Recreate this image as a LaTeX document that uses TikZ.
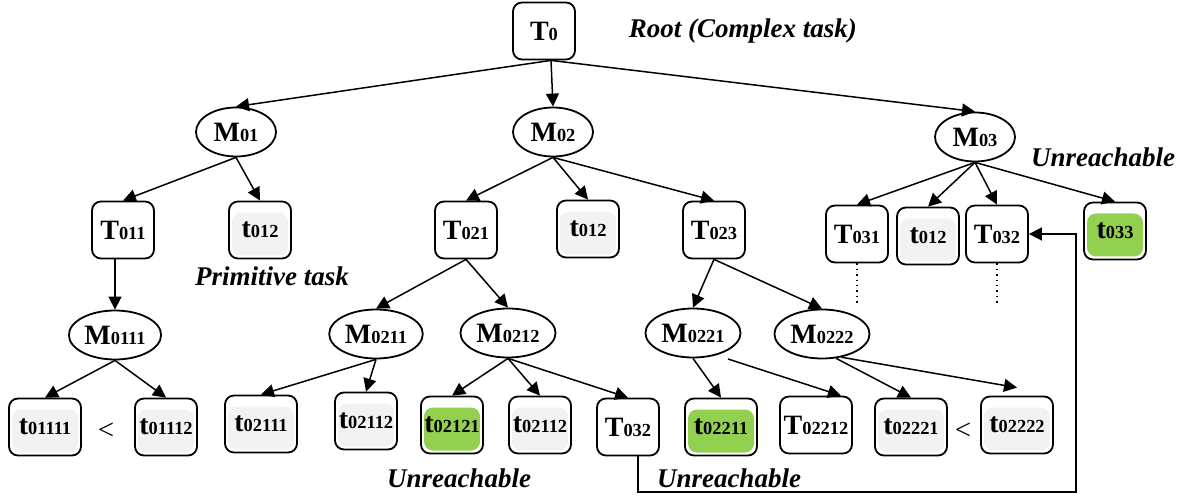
\documentclass[tikz,border=0pt]{standalone}
\usepackage{fontspec}
\setmainfont{Liberation Serif}
\usetikzlibrary{positioning, arrows.meta, shapes.geometric}

\definecolor{reachgreen}{HTML}{92D050}
\definecolor{primgray}{HTML}{F2F2F2}

% task / method label: big letter, small index
\newcommand{\tsk}[2]{{\fontsize{14}{16}\selectfont #1}{\fontsize{9.2}{11}\selectfont #2}}

\begin{document}
\begin{tikzpicture}[
    x=0.5pt, y=-0.5pt,
    % Styles
    task/.style={draw, line width=0.9pt, rounded corners=4.5pt, font=\bfseries, minimum width=31pt, minimum height=28.5pt, inner xsep=1.5pt, inner ysep=0pt},
    wide/.style={minimum width=36pt},
    inset/.style={path picture={\fill[#1] ([shift={(1.5pt,1.5pt)}]path picture bounding box.south west) rectangle ([shift={(-1.5pt,-5.5pt)}]path picture bounding box.north east);}},
    primitive/.style={task, inset=primgray},
    reached/.style={task, inset=reachgreen},
    method/.style={draw, ellipse, line width=0.9pt, font=\bfseries, minimum width=40pt, minimum height=24.5pt, inner xsep=1pt, inner ysep=0pt},
    arrow/.style={-{Triangle[length=6.5pt,width=6.5pt]}, line width=0.75pt},
    note/.style={font=\fontsize{13.5}{16}\selectfont\bfseries\itshape},
    less/.style={font=\fontsize{14.5}{16}\selectfont},
]
\useasboundingbox (0,0) rectangle (1189,497);

% Root
\node[task] (T0) at (544,31) {\tsk{T}{0}};
\node[note, right=23pt of T0] (rootlbl) {Root (Complex task)};

% Methods of the root
\node[method] (M01) at (236,132) {\tsk{M}{01}};
\node[method] (M02) at (553,132) {\tsk{M}{02}};
\node[method] (M03) at (975,137) {\tsk{M}{03}};

\draw[arrow] ([xshift=3.5pt]T0.south) -- (M01.north);
\draw[arrow] ([xshift=3.5pt]T0.south) -- (M02.north);
\draw[arrow] ([xshift=3.5pt]T0.south) -- (M03.north);

% Subtasks
\node[task] (T011) at (123,230) {\tsk{T}{011}};
\node[primitive] (t012a) at (260,230) {\tsk{t}{012}};
\node[task] (T021) at (466,230) {\tsk{T}{021}};
\node[primitive] (t012b) at (588,229) {\tsk{t}{012}};
\node[task] (T023) at (714,230) {\tsk{T}{023}};
\node[task] (T031) at (857,234) {\tsk{T}{031}};
\node[primitive] (t012c) at (928,236) {\tsk{t}{012}};
\node[task] (T032a) at (997,234) {\tsk{T}{032}};
\node[reached] (t033) at (1115,231) {\tsk{t}{033}};

\draw[arrow] (M01.south) -- (T011.north);
\draw[arrow] (M01.south) -- (t012a.north);
\draw[arrow] (M02.south) -- (T021.north);
\draw[arrow] (M02.south) -- (t012b.north);
\draw[arrow] (M02.south) -- (T023.north);
\draw[arrow] (M03.south) -- (T031.north);
\draw[arrow] (M03.south) -- (t012c.north);
\draw[arrow] (M03.south) -- (T032a.north);
\draw[arrow] (M03.south) -- (t033.north);

\draw[dotted, line width=0.7pt] (T031.south) -- ++(0,42);
\draw[dotted, line width=0.7pt] (T032a.south) -- ++(0,42);

% Methods of the subtasks
\node[method] (M0111) at (115,335) {\tsk{M}{0111}};
\node[method] (M0211) at (376,334) {\tsk{M}{0211}};
\node[method] (M0212) at (508,333) {\tsk{M}{0212}};
\node[method] (M0221) at (693,333) {\tsk{M}{0221}};
\node[method] (M0222) at (822,334) {\tsk{M}{0222}};

\draw[arrow] (T011.south -| M0111.north) -- (M0111.north);
\draw[arrow] (T021.south) -- (M0211.north);
\draw[arrow] (T021.south) -- (M0212.north);
\draw[arrow] (T023.south) -- (M0221.north);
\draw[arrow] (T023.south) -- (M0222.north);

% Leaves
\node[primitive, wide] (t01111) at (45,427) {\tsk{t}{01111}};
\node[less] (lt1) at (106,431) {<};
\node[primitive] (t01112) at (166,427) {\tsk{t}{01112}};
\node[primitive, wide] (t02111) at (261,424) {\tsk{t}{02111}};
\node[primitive] (t02112a) at (366,421) {\tsk{t}{02112}};
\node[reached] (t02121) at (452,425) {\tsk{t}{02121}};
\node[primitive] (t02112b) at (540,425) {\tsk{t}{02112}};
\node[task] (T032b) at (628,427) {\tsk{T}{032}};
\node[reached, wide] (t02211) at (721,427) {\tsk{t}{02211}};
\node[task, wide] (T02212) at (816,425) {\tsk{T}{02212}};
\node[primitive, wide] (t02221) at (911,427) {\tsk{t}{02221}};
\node[less] (lt2) at (963,431) {<};
\node[primitive, wide] (t02222) at (1017,425) {\tsk{t}{02222}};

\coordinate (m0221out) at (728,359);

\draw[arrow] (M0111.south) -- (t01111.north);
\draw[arrow] (M0111.south) -- (t01112.north);
\draw[arrow] (M0211.south) -- (t02111.north);
\draw[arrow] (M0211.south) -- (t02112a.north);
\draw[arrow] (M0212.south) -- (t02121.north);
\draw[arrow] (M0212.south) -- (t02112b.north);
\draw[arrow] (M0212.south) -- (T032b.north);
\draw[arrow] (M0221.south) -- (t02211.north);
\draw[arrow] (m0221out) -- ([xshift=-6pt]T02212.north east);
\draw[arrow] (M0222.-60) -- (t02221.north);
\draw[arrow] (M0222.-50) -- ([yshift=4pt]t02222.north);

% Feedback to T032
\coordinate (loopcorner) at (1076,492);
\draw[arrow, line width=0.85pt] ([xshift=5pt]T032b.south) |- (loopcorner) |- (T032a.east);

% Notes
\node[note] (unreach1) at (1103,157) {Unreachable};
\node[note] (primlbl) at (272,276) {Primitive task};
\node[note] (unreach2) at (459,478) {Unreachable};
\node[note] (unreach3) at (729,478) {Unreachable};

\end{tikzpicture}
\end{document}
